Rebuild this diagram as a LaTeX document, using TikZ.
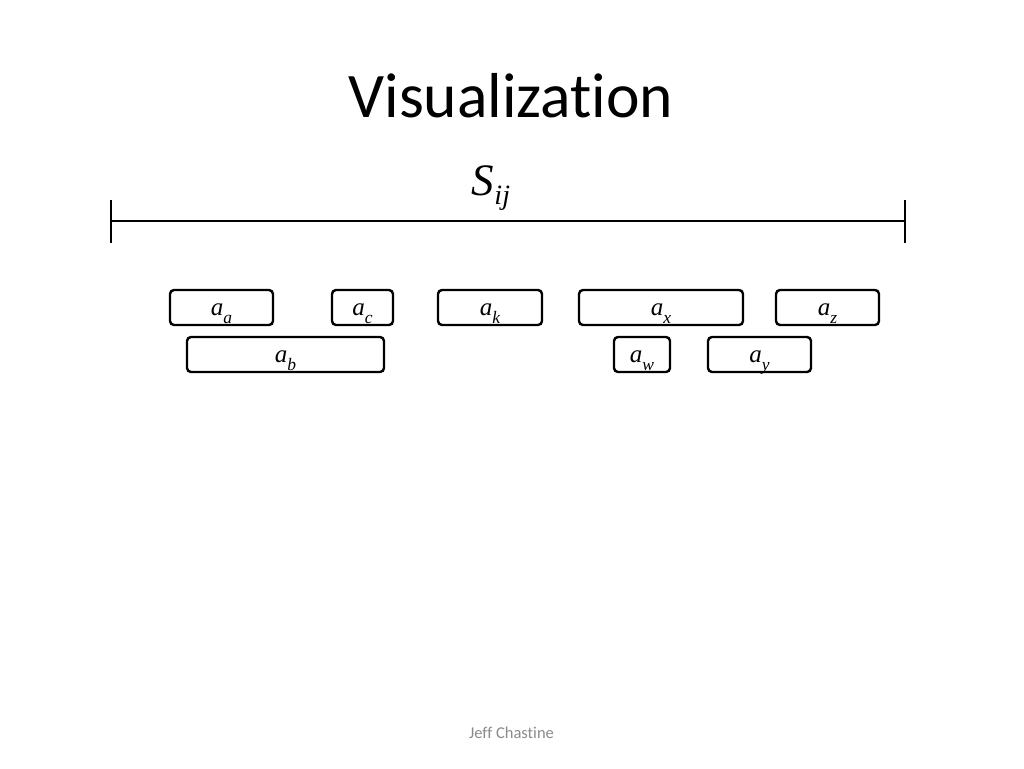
\documentclass[tikz,border=0pt]{standalone}
\usepackage{fontspec}
\setmainfont{Liberation Serif}
\newfontfamily\calibri[Ligatures=NoCommon]{Carlito}
\newcommand{\lab}[2]{{\fontsize{25}{25}\selectfont\itshape #1}\raisebox{-8pt}{\fontsize{17.5}{18}\selectfont\itshape #2}}
\begin{document}
\begin{tikzpicture}[x=1pt,y=-1pt,
  act/.style={draw=black, line width=2.4pt, rounded corners=4pt, fill=white,
    minimum height=35pt, inner sep=0pt, text height=25pt, text depth=10pt},
  bar/.style={line width=2.8pt, black}]
\useasboundingbox (0,0) rectangle (1024,768);
\node[font=\calibri\fontsize{63.5}{70}\selectfont, anchor=base] (title) at (511,117) {Visualization};
\node[anchor=base] (S) at (491,195) {{\fontsize{45}{50}\selectfont\itshape S}\raisebox{-9pt}{\fontsize{28}{30}\selectfont\itshape ij}};
\coordinate (L) at (111,221);
\coordinate (R) at (905,221);
\coordinate (Lt) at (111,200); \coordinate (Lb) at (111,243);
\coordinate (Rt) at (905,200); \coordinate (Rb) at (905,243);
\draw[bar] (L) -- (R);
\draw[bar] (Lt) -- (Lb);
\draw[bar] (Rt) -- (Rb);
\node[act, minimum width=103pt] (aa) at (221.5,307.5) {\lab{a}{a}};
\node[act, minimum width=61pt] (ac) at (362.5,307.5) {\lab{a}{c}};
\node[act, minimum width=104pt] (ak) at (490,307.5) {\lab{a}{k}};
\node[act, minimum width=164pt] (ax) at (661,307.5) {\lab{a}{x}};
\node[act, minimum width=103pt] (az) at (827.5,307.5) {\lab{a}{z}};
\node[act, minimum width=197pt] (ab) at (285.5,354.5) {\lab{a}{b}};
\node[act, minimum width=56pt] (aw) at (642,354.5) {\lab{a}{w}};
\node[act, minimum width=103pt] (ay) at (759.5,354.5) {\lab{a}{y}};
\node[font=\calibri\fontsize{16.5}{18}\selectfont, text=black!46, anchor=base] (foot) at (511.5,738) {Jeff Chastine};
\end{tikzpicture}
\end{document}
